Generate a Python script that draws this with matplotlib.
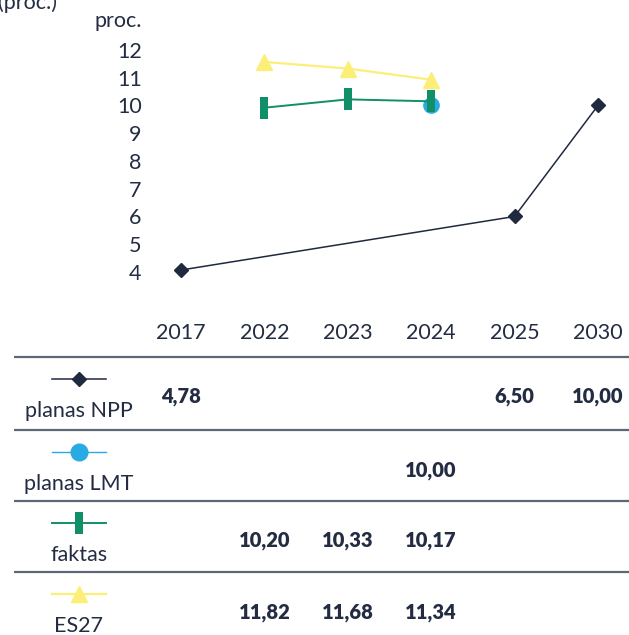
"""
Grafikas: procentai pagal metus (planas NPP, planas LMT, faktas, ES27)
su lentele po grafiku.
"""

import matplotlib
matplotlib.use('Agg')
import matplotlib.pyplot as plt
from matplotlib.path import Path
from matplotlib.lines import Line2D
import matplotlib.transforms as mtransforms

plt.rcParams['font.family'] = ['Lato', 'DejaVu Sans']

# ==================== DUOMENYS ====================

years = ['2017', '2022', '2023', '2024', '2025', '2030']
y_ticks = [4, 5, 6, 7, 8, 9, 10, 11, 12]

# taskai grafike (nuskaityti nuo paveikslo, None = nera reiksmes)
npp_plot = [4.07, None, None, None, 6.0, 10.0]
lmt_plot = [None, None, None, 10.0, None, None]
faktas_plot = [None, 9.92, 10.22, 10.15, None, None]
es27_plot = [None, 11.57, 11.33, 10.93, None, None]

# reiksmes lenteleje
npp_table = [4.78, None, None, None, 6.50, 10.00]
lmt_table = [None, None, None, 10.00, None, None]
faktas_table = [None, 10.20, 10.33, 10.17, None, None]
es27_table = [None, 11.82, 11.68, 11.34, None, None]

series_names = ['planas NPP', 'planas LMT', 'faktas', 'ES27']

# ==================== STILIUS ====================

TEXT = '#232c42'
NAVY = '#1f2940'
BLUE = '#2aaae2'
GREEN = '#108f69'
YELLOW = '#fbef78'
RULE = '#5f6676'
FS = 15.5

bar_marker = Path([(-0.32, -1), (0.32, -1), (0.32, 1), (-0.32, 1), (-0.32, -1)],
                  [Path.MOVETO, Path.LINETO, Path.LINETO, Path.LINETO, Path.CLOSEPOLY])

styles = [
    dict(color=NAVY, lw=1.1, marker='D', ms=7, mfc=NAVY, mec=NAVY),
    dict(color=BLUE, lw=1.0, marker='o', ms=11, mfc=BLUE, mec=BLUE),
    dict(color=GREEN, lw=1.4, marker=bar_marker, ms=16, mfc=GREEN, mec=GREEN, mew=0),
    dict(color=YELLOW, lw=1.6, marker='^', ms=12, mfc=YELLOW, mec=YELLOW),
]

W, H = 629, 635
fig = plt.figure(figsize=(W / 100, H / 100), dpi=100)

# ==================== GRAFIKAS ====================

ax = fig.add_axes([150 / W, 1 - 300 / H, (W - 150) / W, 260 / H])
ax.set_xlim(-0.372, 5.372)
ax.set_ylim(2.99, 12.36)

plots = [npp_plot, lmt_plot, faktas_plot, es27_plot]
zorders = [3, 4, 5, 3]
for vals, st, z in zip(plots, styles, zorders):
    xs = [i for i, v in enumerate(vals) if v is not None]
    ys = [v for v in vals if v is not None]
    ax.plot(xs, ys, zorder=z, **st)

ax.set_yticks(y_ticks)
ax.set_yticklabels([str(t) for t in y_ticks], fontsize=FS, color=TEXT)
ax.set_xticks([])
ax.tick_params(axis='y', length=0, pad=6)
for sp in ax.spines.values():
    sp.set_visible(False)

fig.text(142 / W, 1 - 21 / H, 'proc.', ha='right', va='center', fontsize=FS,
         color=TEXT)
fig.text(-2 / W, 1 - 3 / H, '(proc.)', ha='left', va='center', fontsize=FS,
         color=TEXT)

# ==================== LENTELE ====================

tab = fig.add_axes([0, 0, 1, 1], zorder=-1)
tab.set_xlim(0, W)
tab.set_ylim(H, 0)
tab.axis('off')

# x is grafiko asies, y is pikseliu
trans = mtransforms.blended_transform_factory(ax.transData, tab.transData)

for i, yr in enumerate(years):
    tab.text(i, 333, yr, transform=trans, ha='center', va='center',
             fontsize=FS, color=TEXT)

row_tops = [357, 430, 501, 572]
tables = [npp_table, lmt_table, faktas_table, es27_table]
legend_ms = [7, 12, 16, 12]

for top in row_tops:
    tab.plot([14, W], [top, top], color=RULE, lw=1.6, solid_capstyle='butt')

for k, (top, name, vals, st) in enumerate(zip(row_tops, series_names, tables, styles)):
    st_line = dict(st)
    st_line['marker'] = 'None'
    tab.add_line(Line2D([52, 106], [top + 22, top + 22], **st_line))
    st_mark = dict(st)
    st_mark['ms'] = legend_ms[k]
    tab.add_line(Line2D([79], [top + 22], **st_mark))
    tab.text(79, top + 54, name, ha='center', va='center', fontsize=FS,
             color=TEXT)
    for i, v in enumerate(vals):
        if v is None:
            continue
        tab.text(i, top + 40, f'{v:.2f}'.replace('.', ','), transform=trans,
                 ha='center', va='center', fontsize=14.5, color=TEXT,
                 fontweight='heavy')

fig.savefig('out.png', dpi=100)
